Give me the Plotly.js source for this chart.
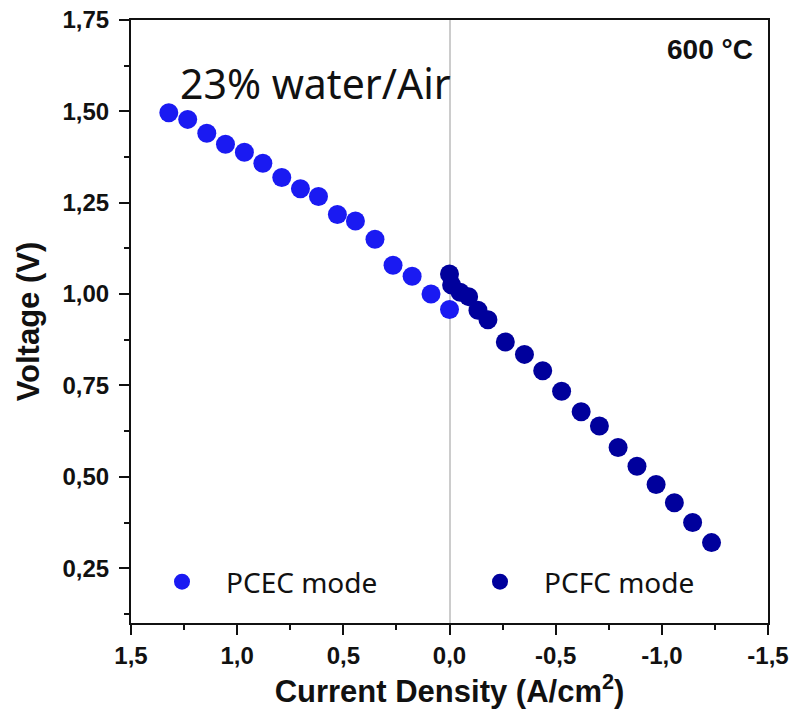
<!DOCTYPE html>
<html>
<head>
<meta charset="utf-8">
<script src="https://cdn.plot.ly/plotly-3.0.1.min.js"></script>
<style>
  html, body { margin: 0; padding: 0; background: #ffffff; }
  #chart { width: 792px; height: 717px; }
</style>
</head>
<body>
<div id="chart"></div>
<script>
// Polarisation curves at 600 °C, 23% water / air
const pcecCurrent = [1.322, 1.233, 1.143, 1.055, 0.966, 0.879, 0.790, 0.702, 0.617, 0.528, 0.443, 0.351, 0.266, 0.176, 0.087, 0.000];
const pcecVoltage = [1.496, 1.478, 1.440, 1.410, 1.388, 1.358, 1.319, 1.288, 1.267, 1.218, 1.200, 1.150, 1.079, 1.049, 1.000, 0.958];

const pcfcCurrent = [0.000, -0.010, -0.050, -0.090, -0.134, -0.181, -0.263, -0.353, -0.439, -0.528, -0.620, -0.706, -0.794, -0.883, -0.973, -1.059, -1.145, -1.234];
const pcfcVoltage = [1.055, 1.025, 1.005, 0.993, 0.956, 0.930, 0.869, 0.835, 0.790, 0.734, 0.678, 0.639, 0.580, 0.529, 0.479, 0.429, 0.375, 0.320];

const xTickVals = [1.5, 1.0, 0.5, 0.0, -0.5, -1.0, -1.5];
const xTickText = ['1,5', '1,0', '0,5', '0,0', '-0,5', '-1,0', '-1,5'];
const yTickVals = [0.25, 0.50, 0.75, 1.00, 1.25, 1.50, 1.75];
const yTickText = ['0,25', '0,50', '0,75', '1,00', '1,25', '1,50', '1,75'];

const seriesNames = ['PCEC mode', 'PCFC mode'];
const seriesColors = ['#1a1af2', '#00009c'];

const tickFont = { family: 'Liberation Sans, Arial, sans-serif', size: 24, weight: 'bold', color: '#111111' };
const titleFont = { family: 'Liberation Sans, Arial, sans-serif', size: 31, weight: 'bold', color: '#111111' };
const legendFont = { family: 'Noto Sans, Open Sans, sans-serif', size: 28, color: '#111111' };

const traces = [
  {
    x: pcecCurrent, y: pcecVoltage, name: seriesNames[0],
    type: 'scatter', mode: 'markers',
    marker: { size: 19, color: seriesColors[0] }
  },
  {
    x: pcfcCurrent, y: pcfcVoltage, name: seriesNames[1],
    type: 'scatter', mode: 'markers',
    marker: { size: 19, color: seriesColors[1] }
  }
];

const axisCommon = {
  showgrid: false,
  showline: true,
  linecolor: '#111111',
  linewidth: 2,
  mirror: true,
  ticks: 'outside',
  ticklen: 10,
  tickwidth: 2,
  tickcolor: '#111111',
  tickfont: tickFont,
  tickmode: 'array'
};

const layout = {
  width: 792,
  height: 717,
  margin: { l: 131, r: 24, t: 20, b: 94 },
  paper_bgcolor: '#ffffff',
  plot_bgcolor: '#ffffff',
  showlegend: true,
  legend: {
    orientation: 'h',
    x: 0.011, y: 0.068, xanchor: 'left', yanchor: 'middle',
    font: legendFont,
    itemwidth: 78,
    entrywidth: 225,
    entrywidthmode: 'pixels',
    bgcolor: 'rgba(0,0,0,0)',
    borderwidth: 0,
    itemclick: false
  },
  xaxis: Object.assign({}, axisCommon, {
    range: [1.5, -1.5],
    autorange: false,
    tickvals: xTickVals,
    ticktext: xTickText,
    zeroline: true,
    zerolinecolor: '#cccccc',
    zerolinewidth: 2,
    minor: { tick0: 0, dtick: 0.25, ticks: 'outside', ticklen: 5, tickwidth: 2, tickcolor: '#111111' },
    title: { text: 'Current Density (A/cm<sup>2</sup>)', font: titleFont, standoff: 8 }
  }),
  yaxis: Object.assign({}, axisCommon, {
    range: [0.10, 1.75],
    autorange: false,
    tickvals: yTickVals,
    ticktext: yTickText,
    ticklabelstandoff: 5,
    zeroline: false,
    minor: { tick0: 0.125, dtick: 0.125, ticks: 'outside', ticklen: 5, tickwidth: 2, tickcolor: '#111111' },
    title: { text: 'Voltage (V)', font: titleFont, standoff: 14 }
  }),
  annotations: [
    {
      text: '23% water/Air', xref: 'paper', yref: 'paper',
      x: 0.074, y: 0.896, xanchor: 'left', yanchor: 'middle',
      showarrow: false,
      font: { family: 'Noto Sans, Open Sans, sans-serif', size: 41, color: '#111111' }
    },
    {
      text: '600 °C', xref: 'paper', yref: 'paper',
      x: 0.980, y: 0.951, xanchor: 'right', yanchor: 'middle',
      showarrow: false,
      font: { family: 'Liberation Sans, Arial, sans-serif', size: 28, weight: 'bold', color: '#111111' }
    }
  ]
};

Plotly.newPlot('chart', traces, layout, { displayModeBar: false, staticPlot: true });
</script>
</body>
</html>
